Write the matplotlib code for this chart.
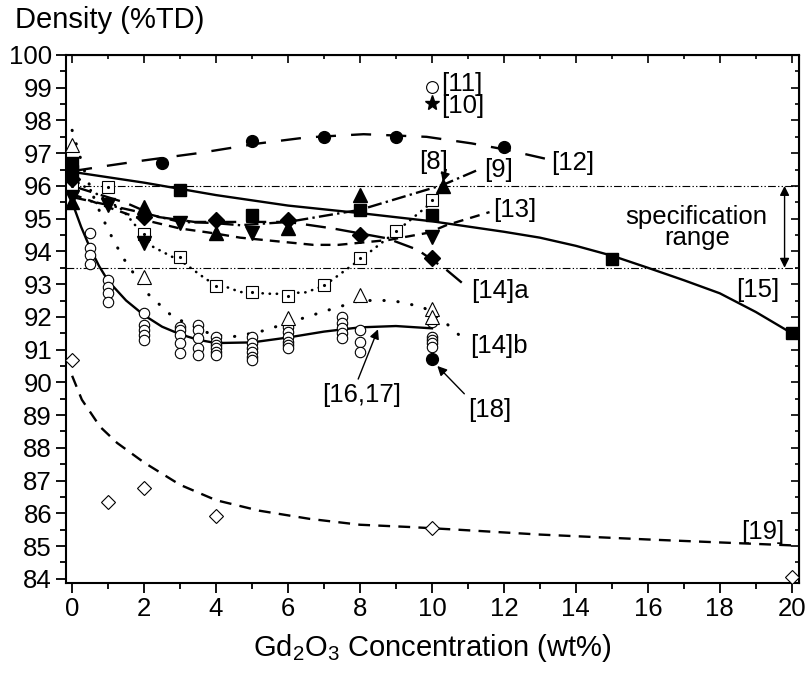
import numpy as np
import matplotlib
matplotlib.use("Agg")
import matplotlib.pyplot as plt

plt.rcParams['font.family'] = ['Liberation Sans', 'DejaVu Sans']
plt.rcParams['mathtext.fontset'] = 'custom'
plt.rcParams['mathtext.rm'] = 'Liberation Sans'
plt.rcParams['mathtext.it'] = 'Liberation Sans:italic'

# ---- data ----
# [16,17] open circles (many samples per composition)
c1617_x = [0, 0, 0.5, 0.5, 0.5, 0.5, 1, 1, 1, 1, 2, 2, 2, 2, 2,
           3, 3, 3, 3, 3, 3.5, 3.5, 3.5, 3.5, 3.5, 4, 4, 4, 4, 4, 4,
           5, 5, 5, 5, 5, 5, 6, 6, 6, 6, 6, 6, 7.5, 7.5, 7.5, 7.5, 7.5,
           8, 8, 8, 10, 10, 10, 10, 10]
c1617_y = [96.1, 95.9, 94.56, 94.1, 93.9, 93.6, 93.13, 92.92, 92.73, 92.46,
           92.12, 91.76, 91.6, 91.45, 91.3, 91.7, 91.6, 91.45, 91.2, 90.9,
           91.76, 91.6, 91.36, 91.05, 90.84, 91.4, 91.24, 91.15, 91.05, 90.93, 90.84,
           91.39, 91.2, 91.05, 90.93, 90.78, 90.69, 91.7, 91.54, 91.39, 91.24, 91.15, 91.05,
           92.0, 91.82, 91.66, 91.5, 91.36, 91.6, 91.24, 90.93,
           91.85, 91.39, 91.3, 91.2, 91.08]
fit1617_x = [0, 0.25, 0.5, 0.75, 1, 1.5, 2, 2.5, 3, 3.5, 4, 5, 6, 7, 8, 9, 10]
fit1617_y = [95.5, 94.75, 94.1, 93.55, 93.1, 92.5, 92.05, 91.7, 91.47, 91.3,
             91.2, 91.22, 91.37, 91.55, 91.68, 91.72, 91.65]

# [12] filled circles
c12_x = [0, 2.5, 5, 7, 9, 12]
c12_y = [96.5, 96.7, 97.37, 97.5, 97.5, 97.19]
fit12_x = [0, 1, 2, 3.5, 5.2, 6.5, 8.1, 9.85, 11.1, 12, 13.2]
fit12_y = [96.45, 96.62, 96.78, 97.0, 97.3, 97.48, 97.58, 97.5, 97.3, 97.12, 96.82]

# [15] filled squares
s15_x = [0, 0, 3, 5, 8, 10, 15, 20]
s15_y = [96.7, 96.45, 95.88, 95.1, 95.27, 95.1, 93.77, 91.5]
fit15_x = [0, 2, 4, 6, 8, 10, 12, 13, 14, 15, 16, 17, 18, 19, 20]
fit15_y = [96.43, 96.1, 95.72, 95.4, 95.17, 94.92, 94.6, 94.42, 94.17, 93.87,
           93.5, 93.12, 92.72, 92.15, 91.5]

# [9] open squares
s9_x = [0, 1, 2, 3, 4, 5, 6, 7, 8, 9, 10]
s9_y = [96.0, 95.97, 94.53, 93.83, 92.95, 92.76, 92.65, 92.97, 93.8, 94.63, 95.57]
fit9_x = [0, 0.5, 1.4, 2.25, 3.1, 3.75, 4.67, 5.6, 6.5, 7, 8, 9, 10, 10.3]
fit9_y = [96.2, 95.88, 95.27, 94.14, 93.65, 93.13, 92.76, 92.7, 92.75, 92.95,
          93.75, 94.6, 95.5, 95.85]

# [8] filled up triangles, dash-dot line running to [9]
t8_x = [0, 2, 4, 6, 8, 10.3]
t8_y = [95.5, 95.35, 94.56, 94.72, 95.73, 96.0]
fit8_x = [0, 2, 3, 3.9, 4.67, 6, 8, 9, 10.3, 11.3]
fit8_y = [95.66, 95.17, 94.9, 94.87, 94.8, 94.9, 95.27, 95.6, 96.03, 96.5]

# [13] filled down triangles
t13_x = [0, 1, 2, 3, 5, 10]
t13_y = [95.65, 95.42, 94.26, 94.87, 94.57, 94.45]
fit13_x = [0, 1.05, 2, 3, 3.9, 4.67, 6.7, 7.4, 8.8, 9.9, 10.4, 11.6]
fit13_y = [95.75, 95.33, 94.96, 94.7, 94.56, 94.42, 94.2, 94.2, 94.35, 94.57, 94.8, 95.2]

# [14]a filled diamonds
d14a_x = [0, 2, 4, 6, 8, 10]
d14a_y = [96.2, 95.05, 94.96, 94.95, 94.5, 93.8]
fit14a_x = [0, 1.5, 2.4, 3.4, 4.67, 6, 7.25, 8.75, 9.6, 10.4, 10.9]
fit14a_y = [96.0, 95.48, 95.05, 94.9, 94.9, 94.9, 94.7, 94.4, 94.05, 93.44, 92.98]

# [14]b open triangles
t14b_x = [0, 2, 6, 8, 10, 10]
t14b_y = [97.25, 93.22, 91.97, 92.67, 92.25, 92.0]
fit14b_x = [0, 0.3, 0.65, 1, 1.4, 2.08, 2.8, 3.9, 4.5, 5.2, 6.1, 7.1, 8, 8.9, 9.75, 10.4, 10.8]
fit14b_y = [97.7, 96.6, 95.5, 94.66, 93.83, 92.73, 92.0, 91.45, 91.4, 91.54,
            91.85, 92.2, 92.5, 92.5, 92.3, 91.8, 91.4]

# [19] open diamonds
d19_x = [0, 1, 2, 4, 10, 20]
d19_y = [90.69, 86.35, 86.78, 85.93, 85.55, 84.05]
fit19_x = [0, 0.27, 0.78, 1.25, 2, 3, 4, 5.2, 6.6, 8, 9.4, 10.7, 13, 16, 20]
fit19_y = [90.2, 89.47, 88.64, 88.15, 87.55, 86.87, 86.4, 86.08, 85.83, 85.65,
           85.58, 85.5, 85.35, 85.2, 85.02]

# single points
p10 = (10, 98.53)
p11 = (10, 99.02)
p18 = (10, 90.72)

spec_lo, spec_hi = 93.5, 96.0

fig = plt.figure(figsize=(8.05, 6.73), dpi=100)
ax = fig.add_axes([0.082, 0.1337, 0.9105, 0.7846])

fs_tick = 18.5
fs_lab = 18.5
fs_title = 21
lw = 1.7

# spec range lines
for yv in (spec_lo, spec_hi):
    ax.axhline(yv, color='black', lw=0.8, ls=(0, (7, 2, 1.2, 2, 1.2, 2)), zorder=1)

# fit lines
ax.plot(fit12_x, fit12_y, color='black', lw=lw, ls=(0, (8.5, 6.4)))
ax.plot(fit15_x, fit15_y, color='black', lw=lw, ls='-')
ax.plot(fit9_x, fit9_y, color='black', lw=1.9, ls=(0, (0.1, 2.6)), dash_capstyle='round')
ax.plot(fit8_x, fit8_y, color='black', lw=lw, ls=(0, (6, 1.8, 1, 1.8)))
ax.plot(fit13_x, fit13_y, color='black', lw=lw, ls=(0, (4.2, 3)))
ax.plot(fit14a_x, fit14a_y, color='black', lw=lw, ls=(0, (8.5, 4.2)))
ax.plot(fit14b_x, fit14b_y, color='black', lw=2.2, ls=(0, (0.1, 4.5)), dash_capstyle='round')
ax.plot(fit1617_x, fit1617_y, color='black', lw=lw, ls='-')
ax.plot(fit19_x, fit19_y, color='black', lw=lw, ls=(0, (5, 3.5)))

# markers
mk = dict(ls='none', color='black', zorder=3)
ax.plot(c1617_x, c1617_y, marker='o', ms=7.5, mfc='white', mec='black', mew=0.8, **mk)
ax.plot(c12_x, c12_y, marker='o', ms=8.5, mfc='black', **mk)
ax.plot(s15_x, s15_y, marker='s', ms=8.5, mfc='black', **mk)
ax.plot(s9_x, s9_y, marker='s', ms=8, mfc='white', mec='black', mew=0.8, **mk)
ax.plot(s9_x, s9_y, marker='.', ms=2.5, **mk)
ax.plot(t8_x, t8_y, marker='^', ms=10, mfc='black', **mk)
ax.plot(t13_x, t13_y, marker='v', ms=10, mfc='black', **mk)
ax.plot(d14a_x, d14a_y, marker='D', ms=8.5, mfc='black', **mk)
ax.plot(t14b_x, t14b_y, marker='^', ms=10, mfc='white', mec='black', mew=0.8, **mk)
ax.plot(d19_x, d19_y, marker='D', ms=7.5, mfc='white', mec='black', mew=0.8, **mk)
ax.plot(*p11, marker='o', ms=8.5, mfc='white', mec='black', mew=0.8, **mk)
ax.plot(*p10, marker='*', ms=11, mfc='black', **mk)
ax.plot(*p18, marker='o', ms=8.5, mfc='black', **mk)

# reference labels
lab = dict(fontsize=fs_lab, va='center', ha='left')
ax.text(10.25, 99.1, '[11]', **lab)
ax.text(10.25, 98.45, '[10]', **lab)
ax.text(13.3, 96.7, '[12]', **lab)
ax.text(11.45, 96.5, '[9]', **lab)
ax.text(11.7, 95.27, '[13]', **lab)
ax.text(11.1, 92.8, '[14]a', **lab)
ax.text(11.05, 91.1, '[14]b', **lab)
ax.text(18.45, 92.82, '[15]', **lab)
ax.text(18.6, 85.42, '[19]', **lab)
ax.text(10.05, 96.72, '[8]', fontsize=fs_lab, va='center', ha='center')
ax.text(8.05, 89.6, '[16,17]', fontsize=fs_lab, va='center', ha='center')
ax.text(11.6, 89.16, '[18]', fontsize=fs_lab, va='center', ha='center')
ax.text(17.36, 94.73, 'specification\nrange', fontsize=fs_lab, va='center', ha='center',
        linespacing=0.85)

arw = dict(arrowstyle='-|>', color='black', lw=1.0, mutation_scale=14, shrinkA=0, shrinkB=0)
ax.annotate('', xy=(10.3, 96.12), xytext=(10.4, 96.5), arrowprops=arw)
ax.annotate('', xy=(8.5, 91.62), xytext=(7.95, 90.1), arrowprops=arw)
ax.annotate('', xy=(10.15, 90.5), xytext=(10.9, 89.65), arrowprops=arw)
ax.annotate('', xy=(19.8, spec_hi), xytext=(19.8, spec_lo),
            arrowprops=dict(arrowstyle='<|-|>', color='black', lw=1.0,
                            mutation_scale=14, shrinkA=0, shrinkB=0))

# axes
ax.set_xlim(-0.17, 20.2)
ax.set_ylim(83.87, 100)
ax.set_xticks(np.arange(0, 21, 2))
ax.set_xticks(np.arange(0, 21, 1), minor=True)
ax.set_yticks(np.arange(84, 101, 1))
ax.set_yticks(np.arange(84, 100.1, 0.5), minor=True)
ax.tick_params(which='both', direction='out', labelsize=fs_tick, width=1.3, pad=3)
ax.tick_params(which='major', length=7)
ax.tick_params(which='minor', length=4)
for sp in ax.spines.values():
    sp.set_linewidth(1.5)

top = ax.secondary_xaxis('top')
top.set_xticks(np.arange(0, 21, 2))
top.set_xticks(np.arange(0, 21, 1), minor=True)
top.tick_params(which='both', direction='in', labeltop=False, width=1.2)
top.tick_params(which='major', length=6)
top.tick_params(which='minor', length=3)
right = ax.secondary_yaxis('right')
right.set_yticks(np.arange(84, 101, 1))
right.set_yticks(np.arange(84, 100.1, 0.5), minor=True)
right.tick_params(which='both', direction='in', labelright=False, width=1.2)
right.tick_params(which='major', length=6)
right.tick_params(which='minor', length=3)

ax.set_xlabel('Gd$_2$O$_3$ Concentration (wt%)', fontsize=fs_title, labelpad=8)
fig.text(0.019, 0.97, 'Density (%TD)', fontsize=fs_title, ha='left', va='center')

fig.savefig('out.png', dpi=100)
